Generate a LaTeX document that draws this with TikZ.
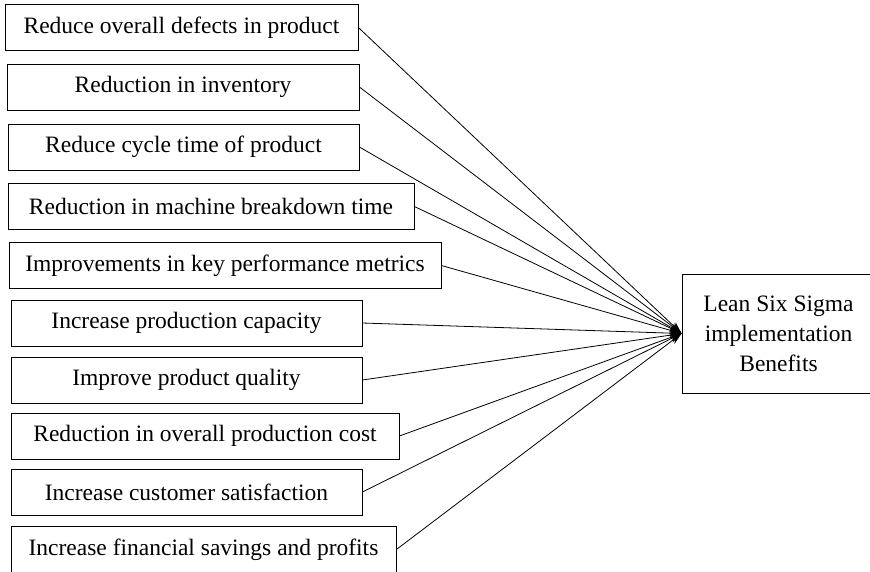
\documentclass[tikz,border=0pt]{standalone}
\usepackage{fontspec}
\setmainfont{Liberation Serif}
\usepackage{tikz}
\usetikzlibrary{arrows.meta}

\begin{document}
\begin{tikzpicture}[x=1pt,y=-1pt,
        benefit/.style={draw,line width=0.8pt,minimum height=46pt,inner sep=0pt,align=center,font=\fontsize{23.5}{30}\selectfont},
        link/.style={-{Stealth[length=12pt,width=8pt]},line width=0.8pt}]
        \useasboundingbox (0,0) rectangle (870,571);
        \node[benefit,minimum width=353pt] (defects) at (181.5,27.5) {Reduce overall defects in product};
        \node[benefit,minimum width=352pt] (inventory) at (183,87) {Reduction in inventory};
        \node[benefit,minimum width=351pt] (cycle) at (183.5,147) {Reduce cycle time of product};
        \node[benefit,minimum width=406pt] (breakdown) at (211,206.5) {Reduction in machine breakdown time};
        \node[benefit,minimum width=432pt] (metrics) at (225,265.5) {Improvements in key performance metrics};
        \node[benefit,minimum width=351pt] (capacity) at (186.5,323) {Increase production capacity};
        \node[benefit,minimum width=351pt] (quality) at (186.5,380) {Improve product quality};
        \node[benefit,minimum width=388pt] (cost) at (205,436) {Reduction in overall production cost};
        \node[benefit,minimum width=351pt] (customer) at (186.5,492) {Increase customer satisfaction};
        \node[benefit,minimum width=385pt] (savings) at (203.5,549.5) {Increase financial savings and profits};
        \node[benefit,minimum width=193pt,minimum height=119pt] (lss) at (778.5,333.5) {Lean Six Sigma\\implementation\\Benefits};
        \draw[link] (defects.east) -- (lss.west);
        \draw[link] (inventory.east) -- (lss.west);
        \draw[link] (cycle.east) -- (lss.west);
        \draw[link] (breakdown.east) -- (lss.west);
        \draw[link] (metrics.east) -- (lss.west);
        \draw[link] (capacity.east) -- (lss.west);
        \draw[link] (quality.east) -- (lss.west);
        \draw[link] (cost.east) -- (lss.west);
        \draw[link] (customer.east) -- (lss.west);
        \draw[link] (savings.east) -- (lss.west);
    \end{tikzpicture}
\end{document}
